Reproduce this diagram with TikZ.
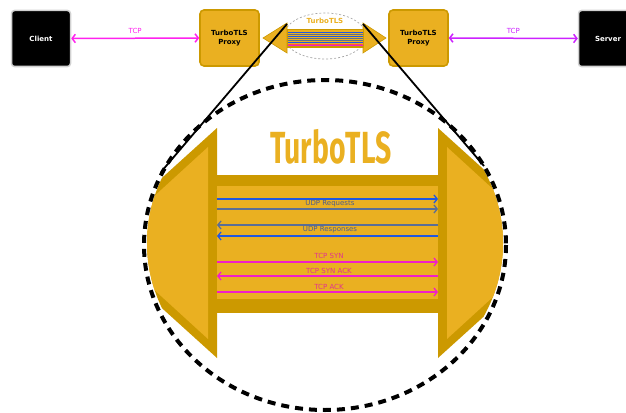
\documentclass[tikz,border=0pt]{standalone}
\usepackage{fontspec}
\setmainfont{DejaVu Sans}
\newfontfamily\bigtitlefont{Fira Sans}
\usepackage{tikz}
\usetikzlibrary{arrows.meta}

\definecolor{goldlight}{HTML}{EAB021}
\definecolor{golddark}{HTML}{CC9900}
\definecolor{udpblue}{HTML}{2158E0}
\definecolor{udpgray}{HTML}{5A6E96}
\definecolor{udptext}{HTML}{4D5D8C}
\definecolor{tcppink}{HTML}{F01FC8}
\definecolor{tcptext}{HTML}{E2338F}
\definecolor{tcpleft}{HTML}{FF22EE}
\definecolor{tcpright}{HTML}{CC22FF}

\tikzset{
  smalltext/.style={font=\fontsize{7}{9.3}\selectfont},
  hostbox/.style={fill=black, draw=black!18, line width=1.5pt, rounded corners=3pt,
    minimum width=59pt, minimum height=56pt, text=white, font=\bfseries\fontsize{7}{9}\selectfont},
  proxybox/.style={fill=goldlight, draw=golddark, line width=1.6pt, rounded corners=4pt,
    minimum width=59pt, minimum height=56pt, align=center, font=\bfseries\fontsize{7}{9.3}\selectfont},
  flow/.style={line width=1.3pt, -{Straight Barb[length=3.2pt,width=8pt]}},
  tcplink/.style={line width=1.5pt, {Straight Barb[length=3.2pt,width=8.5pt]}-{Straight Barb[length=3.2pt,width=8.5pt]}},
}

\begin{document}
\begin{tikzpicture}[x=1pt,y=-1pt]
    \useasboundingbox (0,0) rectangle (626,412);

    % end points and proxies
    \node[hostbox] (client) at (41,38.5) {Client};
    \node[hostbox] (server) at (608,38.5) {Server};
    \node[proxybox] (proxyL) at (229.5,38) {TurboTLS\\Proxy};
    \node[proxybox] (proxyR) at (418.5,38) {TurboTLS\\Proxy};

    \draw[tcplink, tcpleft] (client.east) -- (proxyL.west)
        node[midway, above=1pt, smalltext, text=tcpleft] (tcpL) {TCP};
    \draw[tcplink, tcpright] (proxyR.east) -- (server.west)
        node[midway, above=1pt, smalltext, text=tcpright] (tcpR) {TCP};

    % small tunnel between the proxies
    \draw[gray!70, line width=0.7pt, dash pattern=on 2pt off 2pt] (325,36) ellipse [x radius=41, y radius=23];
    \node[smalltext, font=\bfseries\fontsize{7}{9}\selectfont, text=goldlight] (minititle) at (325,21) {TurboTLS};
    \filldraw[fill=goldlight, draw=golddark, line width=0.6pt] (287,23) -- (287,53) -- (263,38) -- cycle;
    \filldraw[fill=goldlight, draw=golddark, line width=0.6pt] (363,23) -- (363,53) -- (386,38) -- cycle;
    \fill[golddark] (287,29) rectangle (364,48);
    \fill[goldlight] (288,30.5) rectangle (363,46.5);
    \draw[udpblue, line width=0.9pt] (288,32) -- (363,32);
    \draw[udpgray, line width=0.9pt] (288,34) -- (363,34);
    \draw[udpblue, line width=0.9pt] (288,36) -- (363,36);
    \draw[udpgray, line width=0.9pt] (288,38) -- (363,38);
    \draw[udpgray, line width=0.9pt] (288,40) -- (363,40);
    \draw[udpblue, line width=0.9pt] (288,42) -- (363,42);
    \draw[red!70, line width=0.9pt] (288,44) -- (363,44);
    \draw[tcppink, line width=0.9pt] (288,45.6) -- (363,45.6);

    % zoom lines
    \coordinate (zoomL) at (287,24);
    \coordinate (zoomR) at (363,24);
    \coordinate (bigL) at (161,172);
    \coordinate (bigR) at (484,166);
    \draw[line width=1.8pt] (zoomL) -- (bigL);
    \draw[line width=1.8pt] (zoomR) -- (bigR);

    % big tunnel
    \begin{scope}
        \clip (325,243) ellipse [x radius=178, y radius=162];
        \fill[golddark] (217,128) -- (217,358) -- (90,243) -- cycle;
        \fill[goldlight] (208,147) -- (208,339) -- (103,243) -- cycle;
        \fill[golddark] (438,128) -- (438,358) -- (565,243) -- cycle;
        \fill[goldlight] (447,147) -- (447,339) -- (552,243) -- cycle;
    \end{scope}
    \fill[golddark] (217,175) rectangle (438,313);
    \fill[goldlight] (217,186) rectangle (438,299);

    \node[font=\bigtitlefont\bfseries\fontsize{45}{45}\selectfont, text=goldlight, xscale=0.63] (title) at (331,147) {TurboTLS};

    \draw[flow, udpblue] (217,199) -- (438,199);
    \draw[flow, udpgray] (217,209) -- (438,209);
    \node[smalltext, text=udptext] (udpreq) at (330,203.5) {UDP Requests};
    \draw[flow, udpgray] (438,225) -- (217,225);
    \draw[flow, udpblue] (438,236) -- (217,236);
    \node[smalltext, text=udptext] (udpresp) at (330,229.5) {UDP Responses};

    \draw[flow, tcppink] (217,262) -- (438,262);
    \node[smalltext, text=tcptext] (syn) at (329,256) {TCP SYN};
    \draw[flow, tcppink] (438,276) -- (217,276);
    \node[smalltext, text=tcptext] (synack) at (329,271) {TCP SYN ACK};
    \draw[flow, tcppink] (217,292) -- (438,292);
    \node[smalltext, text=tcptext] (ack) at (329,287) {TCP ACK};

    \draw[line width=4pt, dash pattern=on 8pt off 6pt] (325,245) ellipse [x radius=181, y radius=165];
\end{tikzpicture}
\end{document}
